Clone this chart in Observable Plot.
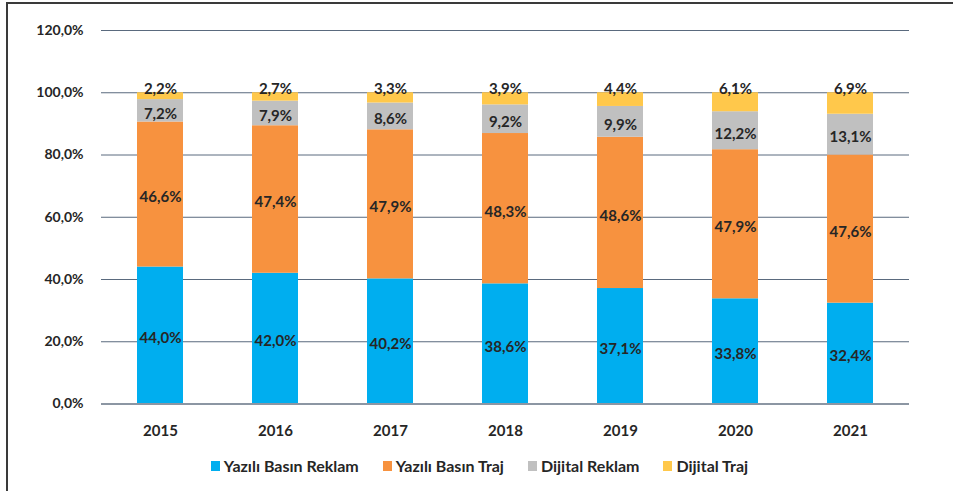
<!DOCTYPE html>
<html>
<head>
<meta charset="utf-8">
<script src="https://cdn.jsdelivr.net/npm/d3@7"></script>
<script src="https://cdn.jsdelivr.net/npm/@observablehq/plot@0.6"></script>
<style>
  html, body { margin: 0; padding: 0; background: #fff; overflow: hidden; }
  body { width: 953px; height: 491px; position: relative; font-family: Lato, "Open Sans", sans-serif; }
  #frame { position: absolute; left: 6px; top: 2px; width: 1000px; height: 600px;
           border-left: 2px solid #3a3a3a; border-top: 2px solid #3a3a3a; }
  #chart { position: absolute; left: 0; top: 0; }
  #legend { position: absolute; top: 456px; left: 0; width: 959px; display: flex; justify-content: center;
            font: bold 16px Lato, sans-serif; color: #262626; }
  .item { display: flex; align-items: center; margin: 0 12px; }
  .sw { width: 9px; height: 10px; margin-right: 4px; }
</style>
</head>
<body>
<div id="frame"></div>
<div id="chart"></div>
<div id="legend"></div>
<script>
const years = ["2015", "2016", "2017", "2018", "2019", "2020", "2021"];
const series = ["Yazılı Basın Reklam", "Yazılı Basın Traj", "Dijital Reklam", "Dijital Traj"];
const colors = ["#00AEEF", "#F7923F", "#C0C0C0", "#FFC84B"];
const yaziliReklam = [44.0, 42.0, 40.2, 38.6, 37.1, 33.8, 32.4];
const yaziliTraj = [46.6, 47.4, 47.9, 48.3, 48.6, 47.9, 47.6];
const dijitalReklam = [7.2, 7.9, 8.6, 9.2, 9.9, 12.2, 13.1];
const dijitalTraj = [2.2, 2.7, 3.3, 3.9, 4.4, 6.1, 6.9];
const yTicks = [0, 20, 40, 60, 80, 100, 120];

const valuesBySeries = [yaziliReklam, yaziliTraj, dijitalReklam, dijitalTraj];
const rows = [];
series.forEach((s, i) => years.forEach((y, j) => rows.push({year: y, series: s, value: valuesBySeries[i][j]})));
const topRows = years.map((y, j) => ({year: y, value: dijitalTraj[j]}));

const fmt = v => v.toFixed(1).replace(".", ",") + "%";

const chart = Plot.plot({
  width: 953,
  height: 440,
  marginLeft: 101,
  marginRight: 44,
  marginTop: 30,
  marginBottom: 36.5,
  style: {fontFamily: "Lato, sans-serif", fontSize: "14px", fontWeight: "bold", color: "#262626", background: "transparent"},
  x: {type: "band", domain: years, paddingInner: 0.6, paddingOuter: 0.3, label: null, tickSize: 0, tickPadding: 21},
  y: {domain: [0, 120], ticks: yTicks, tickFormat: fmt, label: null, tickSize: 0, tickPadding: 18},
  color: {domain: series, range: colors},
  marks: [
    Plot.ruleY(yTicks.filter(t => t > 0), {stroke: "#5A6A7E", strokeWidth: 1}),
    Plot.barY(rows, {x: "year", y: "value", fill: "series", order: series}),
    Plot.ruleY([0], {stroke: "#8C96A3", strokeWidth: 2}),
    Plot.text(rows.filter(d => d.series !== "Dijital Traj"),
      Plot.stackY({x: "year", y: "value", z: "series", order: series, text: d => fmt(d.value), dy: 3,
        fill: "#262626", fontSize: 15, fontWeight: "bold"})),
    Plot.text(topRows, {x: "year", y: () => 100, text: d => fmt(d.value), dy: -4,
      fill: "#262626", fontSize: 15, fontWeight: "bold"})
  ]
});
chart.querySelectorAll('[aria-label="x-axis tick label"] text').forEach(t => t.setAttribute("font-size", "15"));
document.getElementById("chart").appendChild(chart);

const legend = document.getElementById("legend");
series.forEach((s, i) => {
  const it = document.createElement("div");
  it.className = "item";
  const sw = document.createElement("span");
  sw.className = "sw";
  sw.style.background = colors[i];
  const t = document.createElement("span");
  t.textContent = s;
  it.appendChild(sw); it.appendChild(t);
  legend.appendChild(it);
});
</script>
</body>
</html>
